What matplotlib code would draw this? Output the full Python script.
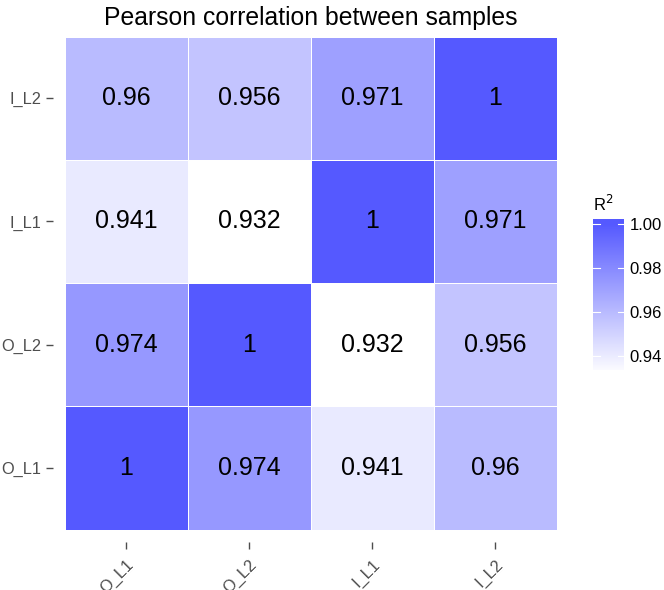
import numpy as np
import matplotlib
matplotlib.use("Agg")
import matplotlib.pyplot as plt
from matplotlib.colors import LinearSegmentedColormap, Normalize

plt.rcParams["font.family"] = ["Liberation Sans", "DejaVu Sans"]

samples = ["O_L1", "O_L2", "I_L1", "I_L2"]
# rows = y sample (bottom to top), cols = x sample
r2 = np.array([
    [1.0, 0.974, 0.941, 0.96],
    [0.974, 1.0, 0.932, 0.956],
    [0.941, 0.932, 1.0, 0.971],
    [0.96, 0.956, 0.971, 1.0],
])
cbar_ticks = [0.94, 0.96, 0.98, 1.00]

cmap = LinearSegmentedColormap.from_list("wb", ["#FFFFFF", "#5559FF"])
norm = Normalize(vmin=r2.min(), vmax=r2.max())

fig = plt.figure(figsize=(6.64, 5.90), dpi=100)
ax = fig.add_axes([64.5 / 664, 1 - 529.5 / 590, 492.5 / 664, 493 / 590])
ax.pcolormesh(np.arange(5), np.arange(5), r2, cmap=cmap, norm=norm,
              edgecolors="white", linewidth=0.6)
for i in range(4):
    for j in range(4):
        ax.text(j + 0.5, i + 0.5, f"{r2[i, j]:g}", ha="center", va="center",
                fontsize=18, color="black")
ax.set_xlim(0, 4)
ax.set_ylim(0, 4)
ax.set_xticks(np.arange(4) + 0.5)
ax.set_yticks(np.arange(4) + 0.5)
ax.set_xticklabels(samples)
ax.set_yticklabels(samples)
for s in ax.spines.values():
    s.set_visible(False)
ax.spines["left"].set_position(("outward", 8.3))
ax.spines["bottom"].set_position(("outward", 9.3))
ax.tick_params(axis="both", length=5, width=1, color="#4D4D4D",
               labelsize=11.8, labelcolor="#4D4D4D")
ax.tick_params(axis="y", pad=3.3)
ax.tick_params(axis="x", pad=5.5, labelrotation=45)
for lab in ax.get_xticklabels():
    lab.set_ha("right")
    lab.set_va("top")
    lab.set_rotation_mode("anchor")
ax.set_title("Pearson correlation between samples", fontsize=17.8, pad=8)

# colour bar
cax = fig.add_axes([593.3 / 664, 1 - 370 / 590, 31 / 664, 150.7 / 590])
lo, hi = 0.9338, 1.002
grad = np.linspace(lo, hi, 300).reshape(-1, 1)
cax.imshow(grad, cmap=cmap, norm=norm, aspect="auto", origin="lower",
           extent=[0, 1, lo, hi])
cax.set_xlim(0, 1)
cax.set_ylim(lo, hi)
for t in cbar_ticks:
    cax.plot([0, 0.2], [t, t], color="white", lw=0.8)
    cax.plot([0.8, 1], [t, t], color="white", lw=0.8)
cax.set_xticks([])
cax.set_yticks(cbar_ticks)
cax.set_yticklabels([f"{t:.2f}" for t in cbar_ticks], fontsize=12)
cax.yaxis.tick_right()
cax.tick_params(axis="y", length=0, pad=4)
for s in cax.spines.values():
    s.set_visible(False)
cax.set_title("R$^2$", fontsize=12, loc="left", pad=6)

fig.savefig("out.png", dpi=100)
